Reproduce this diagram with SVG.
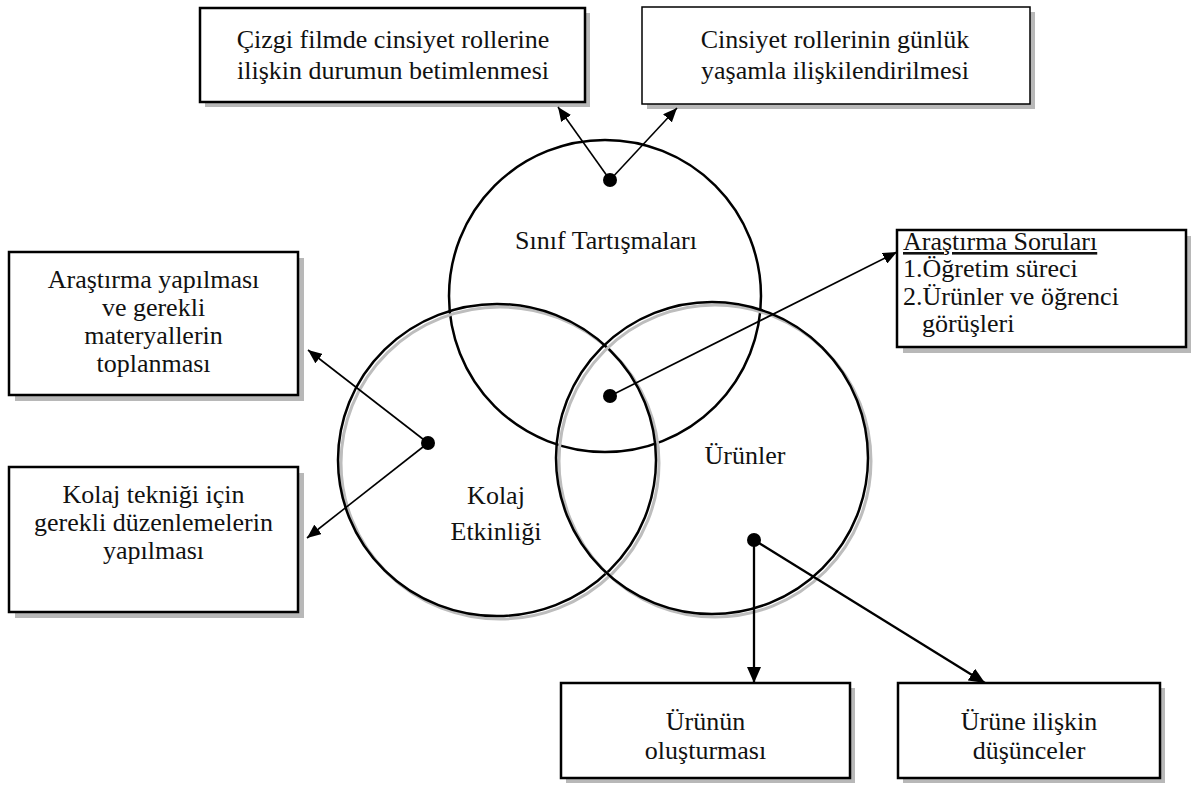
<svg xmlns="http://www.w3.org/2000/svg" width="1191" height="785" viewBox="0 0 1191 785">
<defs>
<style>
.t{font-family:"Liberation Serif","Times New Roman",serif;font-size:26px;fill:#111;}
.c{text-anchor:middle;}
.shadow{fill:#b8b8b8;stroke:none;}
.box{fill:#fff;stroke:#000;stroke-width:2.5;}
.box2{fill:#fff;stroke:#000;stroke-width:1.5;}
.circ{fill:none;stroke:#000;stroke-width:2.5;}
.cshadow{fill:none;stroke:#bdbdbd;stroke-width:3;}
.ln{stroke:#000;stroke-width:1.6;fill:none;}
.lnb{stroke:#000;stroke-width:2.3;fill:none;}
.dot{fill:#000;}
</style>
<marker id="ah" viewBox="0 0 14 12" refX="14" refY="6" markerWidth="14" markerHeight="12" markerUnits="userSpaceOnUse" orient="auto">
<path d="M0,0 L14,6 L0,12 z" fill="#000"/>
</marker>
<marker id="ahb" viewBox="0 0 16 14" refX="16" refY="7" markerWidth="16" markerHeight="14" markerUnits="userSpaceOnUse" orient="auto">
<path d="M0,0 L16,7 L0,14 z" fill="#000"/>
</marker>
</defs>

<g id="circles">
<g id="c-sinif">
<circle class="circ" cx="605" cy="296" r="156"/>
<text class="t c" x="606" y="249">Sınıf Tartışmaları</text>
</g>
<g id="c-kolaj">
<ellipse class="cshadow" cx="500" cy="463" rx="159" ry="156"/>
<ellipse class="circ" cx="497" cy="460" rx="159" ry="156"/>
<text class="t c" x="496" y="504">Kolaj</text>
<text class="t c" x="496" y="540">Etkinliği</text>
</g>
<g id="c-urunler">
<circle class="cshadow" cx="715" cy="461" r="156"/>
<circle class="circ" cx="712" cy="458" r="156"/>
<text class="t c" x="745" y="464">Ürünler</text>
</g>
</g>

<g id="b1">
<rect class="shadow" x="205" y="13" width="385" height="94"/>
<rect class="box" x="200" y="8" width="385" height="94"/>
<text class="t c" x="393" y="48">Çizgi filmde cinsiyet rollerine</text>
<text class="t c" x="393" y="79">ilişkin durumun betimlenmesi</text>
</g>

<g id="b2">
<rect class="shadow" x="647" y="12" width="388" height="97"/>
<rect class="box2" x="642" y="7" width="388" height="97"/>
<text class="t c" x="835" y="48">Cinsiyet rollerinin günlük</text>
<text class="t c" x="835" y="79">yaşamla ilişkilendirilmesi</text>
</g>

<g id="b3">
<rect class="shadow" x="15" y="258" width="289" height="143"/>
<rect class="box" x="9" y="252" width="289" height="143"/>
<text class="t c" x="153.5" y="288">Araştırma yapılması</text>
<text class="t c" x="153.5" y="316">ve gerekli</text>
<text class="t c" x="153.5" y="344">materyallerin</text>
<text class="t c" x="153.5" y="372">toplanması</text>
</g>

<g id="b4">
<rect class="shadow" x="15" y="473" width="289" height="145"/>
<rect class="box" x="9" y="467" width="289" height="145"/>
<text class="t c" x="153.5" y="503">Kolaj tekniği için</text>
<text class="t c" x="153.5" y="531">gerekli düzenlemelerin</text>
<text class="t c" x="153.5" y="559">yapılması</text>
</g>

<g id="b5">
<rect class="shadow" x="903" y="236" width="289" height="117"/>
<rect class="box" x="897" y="230" width="289" height="117"/>
<text class="t" x="903" y="250" text-decoration="underline">Araştırma Soruları</text>
<text class="t" x="903" y="277">1.Öğretim süreci</text>
<text class="t" x="903" y="305">2.Ürünler ve öğrenci</text>
<text class="t" x="922" y="332">görüşleri</text>
</g>

<g id="b6">
<rect class="shadow" x="566" y="688" width="289" height="95"/>
<rect class="box" x="561" y="683" width="289" height="95"/>
<text class="t c" x="705.5" y="730">Ürünün</text>
<text class="t c" x="705.5" y="759">oluşturması</text>
</g>

<g id="b7">
<rect class="shadow" x="903" y="688" width="262" height="95"/>
<rect class="box" x="898" y="683" width="262" height="95"/>
<text class="t c" x="1029" y="730">Ürüne ilişkin</text>
<text class="t c" x="1029" y="759">düşünceler</text>
</g>

<g id="connectors">
<line class="ln" x1="610" y1="180" x2="558" y2="107" marker-end="url(#ah)"/>
<line class="ln" x1="610" y1="180" x2="677" y2="108" marker-end="url(#ah)"/>
<line class="ln" x1="610" y1="396" x2="897" y2="252" marker-end="url(#ah)"/>
<line class="ln" x1="428" y1="443" x2="308" y2="350" marker-end="url(#ah)"/>
<line class="ln" x1="428" y1="443" x2="307" y2="538" marker-end="url(#ah)"/>
<line class="lnb" x1="754" y1="540" x2="754" y2="683" marker-end="url(#ahb)"/>
<line class="lnb" x1="754" y1="540" x2="985" y2="683" marker-end="url(#ahb)"/>
<circle class="dot" cx="610" cy="180" r="7"/>
<circle class="dot" cx="610" cy="396" r="7"/>
<circle class="dot" cx="428" cy="443" r="7"/>
<circle class="dot" cx="754" cy="540" r="7"/>
</g>
</svg>
